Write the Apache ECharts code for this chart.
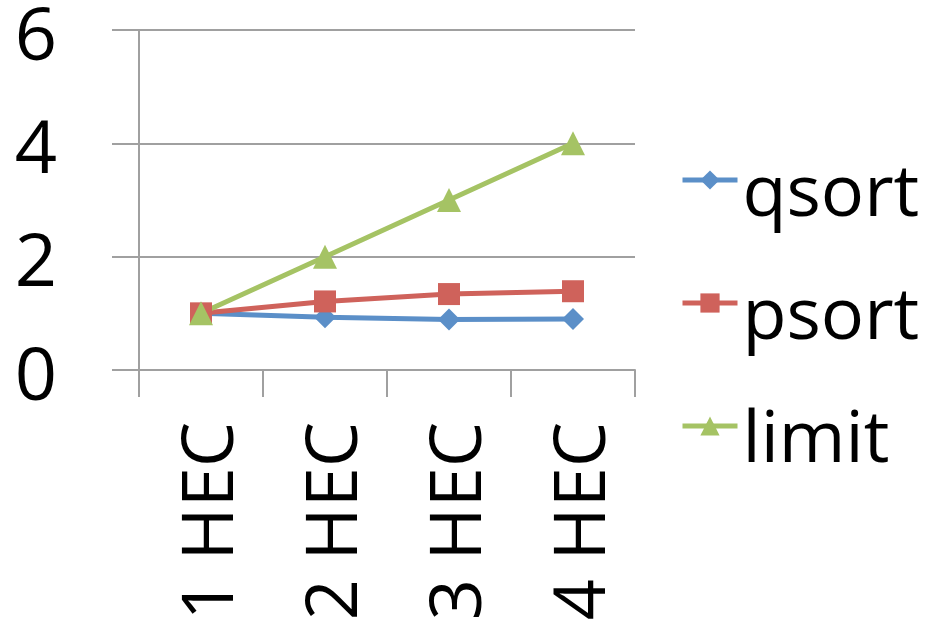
<!DOCTYPE html>
<html><head><meta charset="utf-8">
<script src="https://cdn.jsdelivr.net/npm/echarts@6/dist/echarts.min.js"></script>
<style>html,body{margin:0;padding:0;background:#fff}#c{width:928px;height:628px}</style>
</head><body><div id="c"></div>
<script>
const categories = ['1 HEC', '2 HEC', '3 HEC', '4 HEC'];
const qsort = [1, 0.93, 0.89, 0.90];
const psort = [1, 1.21, 1.34, 1.39];
const limit = [1, 2, 3, 4];
const yTicks = [0, 2, 4, 6];

const FONT = '"Open Sans", "Noto Sans", sans-serif';
const GRID_COLOR = '#a0a0a0';
const colors = { qsort: '#5b8fc8', psort: '#cf625b', limit: '#a5c364' };

const chart = echarts.init(document.getElementById('c'), null, { renderer: 'canvas' });
function mk(name, data, symbol, color) {
  return {
    name, type: 'line', data, symbol, symbolSize: symbol === 'triangle' ? 24 : 22,
    lineStyle: { color, width: 5 }, itemStyle: { color },
    animation: false
  };
}
chart.setOption({
  animation: false,
  grid: { left: 139, right: 293, top: 30, bottom: 258, containLabel: false, outerBoundsMode: 'none' },
  legend: {
    orient: 'vertical', left: 680, top: 129, itemGap: 21, padding: 0,
    itemWidth: 55, itemHeight: 24,
    lineStyle: { width: 5 },
    formatter: '{a|{name}}',
    textStyle: {
      fontFamily: FONT, fontSize: 72, color: '#000',
      rich: { a: { fontFamily: FONT, fontSize: 72, color: '#000', lineHeight: 80, padding: [30, 0, 0, 0] } }
    },
    data: ['qsort', 'psort', 'limit']
  },
  xAxis: {
    type: 'category', data: categories, boundaryGap: true,
    axisLine: { lineStyle: { color: GRID_COLOR, width: 2 } },
    axisTick: { show: true, length: 27, inside: false, lineStyle: { color: GRID_COLOR, width: 2 } },
    axisLabel: { rotate: 90, margin: 52, fontFamily: FONT, fontSize: 72, color: '#000', verticalAlign: 'top', lineHeight: 22 },
    splitLine: { show: false }
  },
  yAxis: {
    type: 'value', min: yTicks[0], max: yTicks[yTicks.length - 1], interval: 2,
    axisLine: { show: true, lineStyle: { color: GRID_COLOR, width: 2 } },
    axisTick: { show: true, length: 27, lineStyle: { color: GRID_COLOR, width: 2 } },
    axisLabel: { margin: 82, fontFamily: FONT, fontSize: 74, color: '#000', verticalAlign: 'top', lineHeight: 17 },
    splitLine: { show: true, lineStyle: { color: GRID_COLOR, width: 2 } }
  },
  series: [
    mk('qsort', qsort, 'diamond', colors.qsort),
    mk('psort', psort, 'rect', colors.psort),
    mk('limit', limit, 'triangle', colors.limit)
  ]
});
</script></body></html>
